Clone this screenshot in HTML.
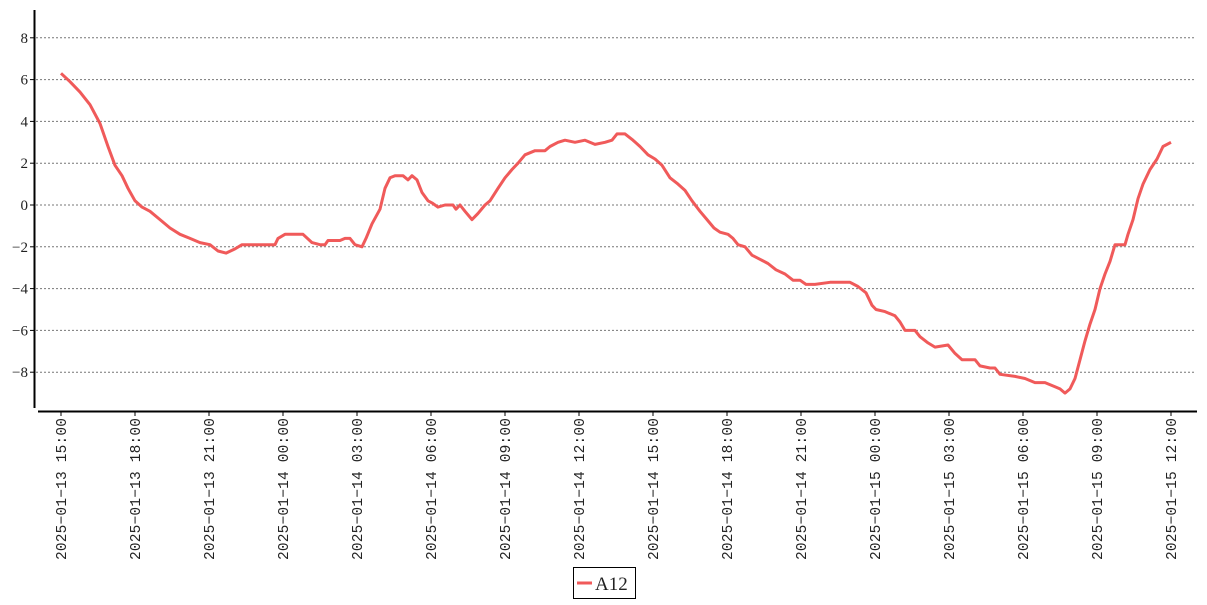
<!DOCTYPE html>
<html><head><meta charset="utf-8"><style>
body{margin:0;background:#fff;width:1207px;height:600px;overflow:hidden}
svg text{fill:#222}
</style></head><body>
<svg id="s" width="1207" height="600" xmlns="http://www.w3.org/2000/svg">
<g id="grid" stroke="#777" stroke-width="1" stroke-dasharray="2,2"></g>
<line x1="34.5" y1="10" x2="34.5" y2="408" stroke="#000" stroke-width="2"/>
<line x1="38" y1="411.5" x2="1197" y2="411.5" stroke="#000" stroke-width="2"/>
<g id="yl" font-family="Liberation Serif, serif" font-size="15" text-anchor="end"></g>
<g id="xl" font-family="Liberation Mono, monospace" font-size="14.5"></g>
<path id="p" fill="none" stroke="#f05a5a" stroke-width="3" stroke-linejoin="round"/>
<rect x="573.5" y="567.5" width="62" height="31" fill="#fff" stroke="#000"/>
<line x1="577" y1="583" x2="592" y2="583" stroke="#f05a5a" stroke-width="3"/>
<text x="595" y="590" font-family="Liberation Serif, serif" font-size="19">A12</text>
</svg>
<script>
const Y=v=>205-v*20.9;
const g=document.getElementById('grid'),yl=document.getElementById('yl'),xl=document.getElementById('xl');
let h='',t='';
for(let v=-8;v<=8;v+=2){const y=Y(v);h+=`<line x1="36" x2="1195" y1="${y}" y2="${y}"/>`;
t+=`<text x="28" y="${y+5}">${v<0?'\u2212'+(-v):v}</text><line x1="30" x2="34" y1="${y}" y2="${y}" stroke="#000"/>`;}
g.innerHTML=h;yl.innerHTML=t;
const labs=["2025-01-13 15:00","2025-01-13 18:00","2025-01-13 21:00","2025-01-14 00:00","2025-01-14 03:00","2025-01-14 06:00","2025-01-14 09:00","2025-01-14 12:00","2025-01-14 15:00","2025-01-14 18:00","2025-01-14 21:00","2025-01-15 00:00","2025-01-15 03:00","2025-01-15 06:00","2025-01-15 09:00","2025-01-15 12:00"];
let xs='';labs.forEach((l,i)=>{const x=61+i*74;
xs+=`<line x1="${x}" x2="${x}" y1="412" y2="416" stroke="#000"/><text transform="translate(${x+5},418) rotate(-90)" text-anchor="end" textLength="142" lengthAdjust="spacing">${l.replace(/-/g,'\u2212')}</text>`;});
xl.innerHTML=xs;
const d=[61,6.3,70,5.9,80,5.4,90,4.8,100,3.9,108,2.8,115,1.9,122,1.4,128,0.8,135,0.2,142,-0.1,150,-0.3,160,-0.7,170,-1.1,180,-1.4,190,-1.6,200,-1.8,210,-1.9,218,-2.2,226,-2.3,235,-2.1,242,-1.9,275,-1.9,278,-1.6,285,-1.4,303,-1.4,312,-1.8,320,-1.9,325,-1.9,328,-1.7,340,-1.7,345,-1.6,350,-1.6,355,-1.9,362,-2.0,366,-1.6,372,-0.9,380,-0.2,385,0.8,390,1.3,395,1.4,403,1.4,408,1.2,412,1.4,417,1.2,422,0.6,428,0.2,432,0.1,438,-0.1,445,0.0,453,0.0,456,-0.2,460,0.0,465,-0.3,472,-0.7,478,-0.4,485,0.0,490,0.2,498,0.8,505,1.3,512,1.7,518,2.0,525,2.4,535,2.6,545,2.6,550,2.8,558,3.0,565,3.1,575,3.0,585,3.1,595,2.9,605,3.0,612,3.1,617,3.4,625,3.4,633,3.1,640,2.8,648,2.4,655,2.2,662,1.9,670,1.3,678,1.0,685,0.7,692,0.2,700,-0.3,707,-0.7,714,-1.1,720,-1.3,728,-1.4,733,-1.6,738,-1.9,745,-2.0,752,-2.4,760,-2.6,768,-2.8,776,-3.1,785,-3.3,793,-3.6,800,-3.6,806,-3.8,815,-3.8,830,-3.7,850,-3.7,858,-3.9,866,-4.2,872,-4.8,876,-5.0,885,-5.1,895,-5.3,900,-5.6,905,-6.0,915,-6.0,920,-6.3,928,-6.6,935,-6.8,948,-6.7,955,-7.1,962,-7.4,975,-7.4,980,-7.7,990,-7.8,995,-7.8,1000,-8.1,1015,-8.2,1025,-8.3,1035,-8.5,1045,-8.5,1055,-8.7,1060,-8.8,1065,-9.0,1070,-8.8,1075,-8.3,1080,-7.4,1085,-6.5,1090,-5.7,1095,-5.0,1100,-4.0,1105,-3.3,1110,-2.7,1115,-1.9,1125,-1.9,1128,-1.4,1133,-0.7,1138,0.3,1143,1.0,1150,1.7,1157,2.2,1163,2.8,1171,3.0];
let p='';for(let i=0;i<d.length;i+=2)p+=(i?'L':'M')+d[i]+','+Y(d[i+1]).toFixed(1);
document.getElementById('p').setAttribute('d',p);
</script>
</body></html>
